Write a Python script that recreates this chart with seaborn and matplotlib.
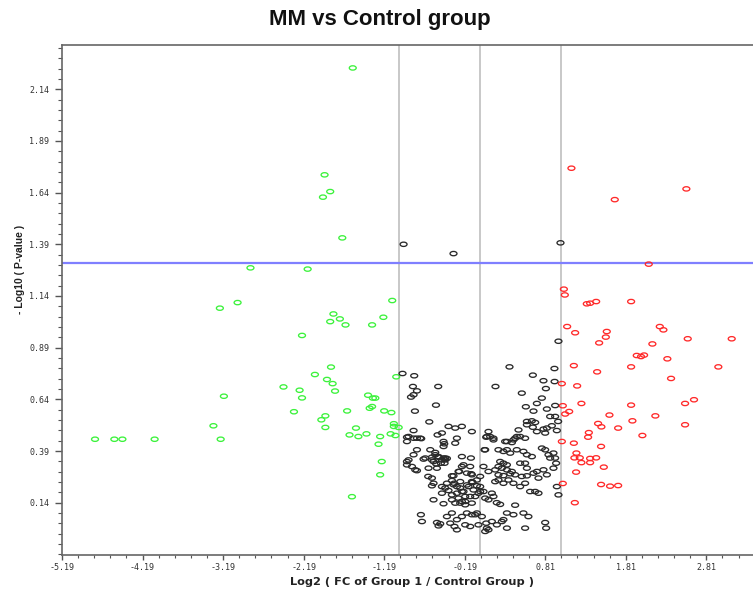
import numpy as np
import pandas as pd
import matplotlib
matplotlib.use("Agg")
import matplotlib.pyplot as plt
import seaborn as sns
from matplotlib.path import Path
from matplotlib.markers import MarkerStyle
from matplotlib.ticker import FixedLocator, FormatStrFormatter

# ---------------- data (log2 fold change, -log10 p-value) ----------------
green_x = [-1.58, -1.93, -1.86, -1.95, -1.71, -2.85, -2.14,
           -3.23, -3.01, -1.09, -1.82, -1.74, -1.86, -1.67, -1.34, -1.20, -2.21,
           -1.85, -2.05, -1.90, -1.83, -1.80, -2.44, -2.24, -2.21, -2.31,
           -3.18, -3.31, -3.22, -4.78, -4.54, -4.44, -4.04,
           -1.04, -1.39, -1.33, -1.30, -1.37, -1.34, -1.65, -1.19, -1.10,
           -1.92, -1.97, -1.92, -1.54, -1.62, -1.51, -1.41, -1.24, -1.26,
           -1.07, -1.07, -1.01, -1.11, -1.05, -1.22, -1.24, -1.59]
green_y = [2.243, 1.726, 1.645, 1.618, 1.421, 1.276, 1.270,
           1.081, 1.108, 1.118, 1.053, 1.029, 1.016, 1.000, 1.000, 1.037, 0.949,
           0.796, 0.760, 0.736, 0.716, 0.680, 0.700, 0.684, 0.647, 0.580,
           0.655, 0.512, 0.447, 0.447, 0.447, 0.447, 0.447,
           0.749, 0.660, 0.646, 0.646, 0.597, 0.605, 0.584, 0.584, 0.576,
           0.560, 0.541, 0.504, 0.501, 0.468, 0.460, 0.473, 0.460, 0.423,
           0.522, 0.509, 0.504, 0.473, 0.465, 0.339, 0.275, 0.169]

red_x = [1.135, 1.673, 2.562, 2.095, 1.041, 1.053, 1.326, 1.367, 1.442, 1.876,
         1.082, 1.181, 1.574, 1.562, 1.479, 2.232, 2.277, 2.140, 2.579, 3.125,
         1.946, 1.999, 2.037, 2.326, 1.165, 1.454, 1.876, 2.959, 2.372,
         1.016, 1.206, 1.259, 1.028, 1.107, 1.057, 1.876, 2.546, 2.657,
         1.607, 2.177, 1.892, 1.466, 1.507, 1.715, 2.546, 1.351, 1.342, 2.016,
         1.016, 1.165, 1.503, 1.197, 1.172, 1.239, 1.259, 1.367, 1.367, 1.442,
         1.537, 1.193, 1.028, 1.503, 1.615, 1.715, 1.177]
red_y = [1.758, 1.606, 1.658, 1.294, 1.173, 1.145, 1.102, 1.105, 1.113, 1.113,
         0.992, 0.962, 0.968, 0.941, 0.913, 0.992, 0.976, 0.908, 0.933, 0.933,
         0.852, 0.847, 0.854, 0.836, 0.803, 0.773, 0.797, 0.797, 0.741,
         0.716, 0.705, 0.620, 0.609, 0.581, 0.569, 0.612, 0.620, 0.638,
         0.564, 0.560, 0.536, 0.523, 0.507, 0.501, 0.517, 0.479, 0.457, 0.465,
         0.436, 0.428, 0.412, 0.380, 0.357, 0.357, 0.334, 0.354, 0.334, 0.357,
         0.312, 0.288, 0.233, 0.228, 0.220, 0.223, 0.140]

black_x = [-0.949, -0.329, 0.999, 0.974,
           -0.962, -0.817, 0.366, 0.656, 0.924,
           -0.833, -0.783, -0.825, -0.857, -0.519, 0.192,
           0.788, 0.818, 0.926, 0.519,
           -0.808, -0.547, -0.630,
           0.569, 0.664, 0.768, 0.830, 0.933,
           0.871, 0.933, 0.970,
           0.582, 0.644, 0.685,
           0.478, 0.582, 0.656,
           0.830, 0.892, 0.954,
           0.706, 0.788, 0.809,
           -0.825, -0.907, -0.825, -0.742,
           -0.527, -0.473, -0.391, -0.308,
           -0.453, -0.444, -0.453,
           -0.783, -0.825, -0.701,
           -0.907, -0.907, -0.804,
           -0.618, -0.556, -0.515, -0.453, -0.411,
           -0.680, -0.597,
           -0.577, -0.544, -0.486, -0.432,
           -0.225, -0.113,
           0.056, 0.105, 0.167, 0.126,
           0.334, 0.415, 0.457, 0.436, 0.498, 0.560,
           0.229, 0.291, 0.334, 0.375, 0.457, 0.539, 0.582, 0.644,
           0.809, 0.850, 0.912, 0.933,
           0.250, 0.291, 0.334, 0.229,
           0.271, 0.334, 0.395,
           0.498, 0.582, 0.560, 0.706, 0.830, 0.788, 0.912,
           -0.205, -0.122,
           -0.349, -0.267, -0.163, -0.101, 0.002,
           -0.577, -0.473, -0.411, -0.320, -0.246, -0.163, -0.101, -0.039,
           -0.597,
           -0.473, -0.349, -0.287, -0.225, -0.184, -0.122, -0.246, -0.184,
           0.002, 0.043, 0.064, 0.105, 0.167, 0.208, 0.250, 0.147,
           0.188, 0.229, 0.291, 0.353, 0.415, 0.498, 0.560, 0.622, 0.685, 0.726,
           0.436, 0.334, 0.415, 0.291, 0.539, 0.601,
           0.974,
           -0.734, -0.721, -0.535, -0.494,
           -0.411, -0.349, -0.287, -0.225, -0.163, -0.101, -0.039, 0.023,
           -0.370, -0.287, -0.184, -0.122, -0.019, 0.085, 0.147, 0.209, 0.271, 0.334, 0.064,
           0.560, 0.809, 0.821,
           -0.287, -0.225, -0.101, -0.308,
           0.085, 0.064, 0.706,
           0.077, 0.167, 0.312, 0.396, 0.768, 0.871, 0.945,
           0.043, 0.105, 0.188, 0.229, 0.291, 0.375, 0.436, 0.519, 0.582, 0.664, 0.726, 0.954,
           -0.643, -0.597, -0.515, -0.317, -0.577, -0.453,
           -0.349, -0.308, -0.267, -0.225, -0.184, -0.101, -0.060, -0.019, -0.060,
           -0.432, -0.391, -0.329, -0.287, -0.246, -0.205, -0.143, -0.081, 0.002, -0.039,
           -0.887, -0.845, -0.783, -0.639, -0.535,
           -0.225, -0.259, -0.329, -0.349, -0.109, -0.093,
           -0.556, -0.515, -0.597, -0.473, -0.432, -0.440,
           -0.887, -0.907, -0.783, -0.730,
           0.077, 0.105]
black_y = [1.390, 1.345, 1.397, 0.921,
           0.765, 0.754, 0.797, 0.757, 0.789,
           0.702, 0.681, 0.662, 0.651, 0.702, 0.702,
           0.730, 0.692, 0.726, 0.670,
           0.583, 0.612, 0.531,
           0.604, 0.583, 0.646, 0.593, 0.610,
           0.557, 0.557, 0.533,
           0.533, 0.536, 0.528,
           0.492, 0.517, 0.505,
           0.501, 0.512, 0.489,
           0.484, 0.496, 0.477,
           0.489, 0.457, 0.452, 0.452,
           0.468, 0.477, 0.509, 0.501,
           0.436, 0.425, 0.412,
           0.396, 0.372, 0.351,
           0.339, 0.323, 0.299,
           0.396, 0.372, 0.360, 0.356, 0.354,
           0.356, 0.360,
           0.339, 0.328, 0.331, 0.347,
           0.363, 0.356,
           0.396, 0.484, 0.452, 0.460,
           0.436, 0.444, 0.460, 0.452, 0.460, 0.452,
           0.396, 0.388, 0.396, 0.380, 0.396, 0.388, 0.372, 0.363,
           0.396, 0.372, 0.380, 0.356,
           0.339, 0.331, 0.323, 0.315,
           0.307, 0.299, 0.291,
           0.331, 0.307, 0.331, 0.291, 0.275, 0.299, 0.307,
           0.323, 0.315,
           0.270, 0.291, 0.283, 0.275, 0.267,
           0.234, 0.218, 0.234, 0.234, 0.242, 0.226, 0.242, 0.250,
           0.222,
           0.186, 0.178, 0.186, 0.194, 0.170, 0.170, 0.138, 0.146,
           0.218, 0.194, 0.162, 0.154, 0.170, 0.140, 0.132, 0.186,
           0.242, 0.250, 0.234, 0.250, 0.234, 0.218, 0.234, 0.194, 0.194, 0.186,
           0.128, 0.090, 0.082, 0.058, 0.090, 0.073,
           0.178,
           0.082, 0.049, 0.044, 0.038,
           0.073, 0.090, 0.058, 0.073, 0.090, 0.082, 0.090, 0.073,
           0.041, 0.009, 0.033, 0.025, 0.033, 0.017, 0.049, 0.033, 0.049, 0.017, 0.001,
           0.017, 0.044, 0.017,
           0.452, 0.509, 0.484, 0.428,
           0.460, 0.396, 0.620,
           0.457, 0.444, 0.436, 0.431, 0.404, 0.356, 0.331,
           0.315, 0.291, 0.299, 0.275, 0.271, 0.280, 0.275, 0.267, 0.270, 0.283, 0.259, 0.218,
           0.267, 0.259, 0.028, 0.025, 0.154, 0.135,
           0.154, 0.138, 0.162, 0.146, 0.130, 0.138, 0.170, 0.186, 0.082,
           0.211, 0.199, 0.227, 0.218, 0.211, 0.194, 0.218, 0.202, 0.194, 0.222,
           0.347, 0.315, 0.295, 0.307, 0.307,
           0.315, 0.291, 0.270, 0.247, 0.280, 0.238,
           0.383, 0.363, 0.347, 0.347, 0.356, 0.331,
           0.460, 0.436, 0.452, 0.450,
           0.041, 0.009]

x_ticks = [-5.19, -4.19, -3.19, -2.19, -1.19, -0.19, 0.81, 1.81, 2.81]
y_ticks = [0.14, 0.39, 0.64, 0.89, 1.14, 1.39, 1.64, 1.89, 2.14]
fc_cutoffs = [-1.0, 0.0, 1.0]
p_cutoff = 1.301

df = pd.DataFrame({
    "log2fc": green_x + black_x + red_x,
    "neglogp": green_y + black_y + red_y,
    "group": ["down"] * len(green_x) + ["ns"] * len(black_x) + ["up"] * len(red_x),
})
palette = {"down": "#3cf23c", "ns": "#2a2a2a", "up": "#ff2a2a"}

# ---------------- figure ----------------
sns.set_style("white")
plt.rcParams["font.family"] = ["DejaVu Sans"]

W, H = 753, 591
fig = plt.figure(figsize=(W / 100, H / 100), dpi=100)
ax = fig.add_axes([62 / W, 1 - 555 / H, 1 - 62 / W, (555 - 45) / H])

circ = Path.unit_circle()
ellipse = Path(circ.vertices * np.array([1.0, 0.62]), circ.codes)
mk = MarkerStyle(ellipse)

sns.scatterplot(data=df, x="log2fc", y="neglogp", hue="group", palette=palette,
                marker=mk, s=25, linewidth=0.95, legend=False, ax=ax, zorder=3)
pts = ax.collections[-1]
pts.set_edgecolors(pts.get_facecolors())
pts.set_facecolors("none")

for v in fc_cutoffs:
    ax.axvline(v, color="#c4c4c4", lw=1.3, zorder=1)
ax.axhline(p_cutoff, color="#7f7fff", lw=1.6, zorder=2)

ax.set_xlim(-5.19, -5.19 + (W - 61.5) / 80.6)
ax.set_ylim(-0.113, 2.354)

ax.xaxis.set_major_locator(FixedLocator(x_ticks))
ax.xaxis.set_minor_locator(FixedLocator(np.round(np.arange(-5.19, 3.5, 0.2), 3)))
ax.yaxis.set_major_locator(FixedLocator(y_ticks))
ax.yaxis.set_minor_locator(FixedLocator(np.round(np.arange(-0.11, 2.36, 0.05), 3)))
ax.xaxis.set_major_formatter(FormatStrFormatter("%.2f"))
ax.yaxis.set_major_formatter(FormatStrFormatter("%.2f"))

ax.tick_params(axis="y", which="major", length=5, width=1, direction="out",
               color="#555555", labelsize=6, labelcolor="#333333", pad=4, left=True)
ax.tick_params(axis="y", which="minor", length=3, width=0.8, direction="out",
               color="#555555", left=True)
ax.tick_params(axis="x", which="major", length=3.5, width=1, direction="out",
               color="#555555", labelsize=6, labelcolor="#333333", pad=2.5, bottom=True)
ax.tick_params(axis="x", which="minor", length=2.5, width=0.8, direction="out",
               color="#555555", bottom=True)
for lab in ax.get_xticklabels() + ax.get_yticklabels():
    lab.set_fontfamily("DejaVu Sans Mono")

for side in ["left", "bottom", "top"]:
    ax.spines[side].set_visible(True)
    ax.spines[side].set_color("#666666")
    ax.spines[side].set_linewidth(1.2)
ax.spines["right"].set_visible(False)
ax.set_xlabel("")
ax.set_ylabel("")

fig.text(412 / W, 1 - 582 / H, "Log2 ( FC of Group 1 / Control Group )",
         ha="center", va="center", fontsize=8.2, fontweight="bold", color="#222222")
fig.text(20 / W, 1 - 269 / H, "- Log10 ( P-value )", rotation=90,
         ha="center", va="center", fontsize=7.5, fontweight="bold", color="#222222",
         family=["Liberation Sans Narrow", "Liberation Sans", "DejaVu Sans"])
fig.text(380 / W, 1 - 20 / H, "MM vs Control group", ha="center", va="center",
         fontsize=16, fontweight="bold", color="#111111",
         family=["Liberation Sans", "DejaVu Sans"])

fig.savefig("out.png", dpi=100)
